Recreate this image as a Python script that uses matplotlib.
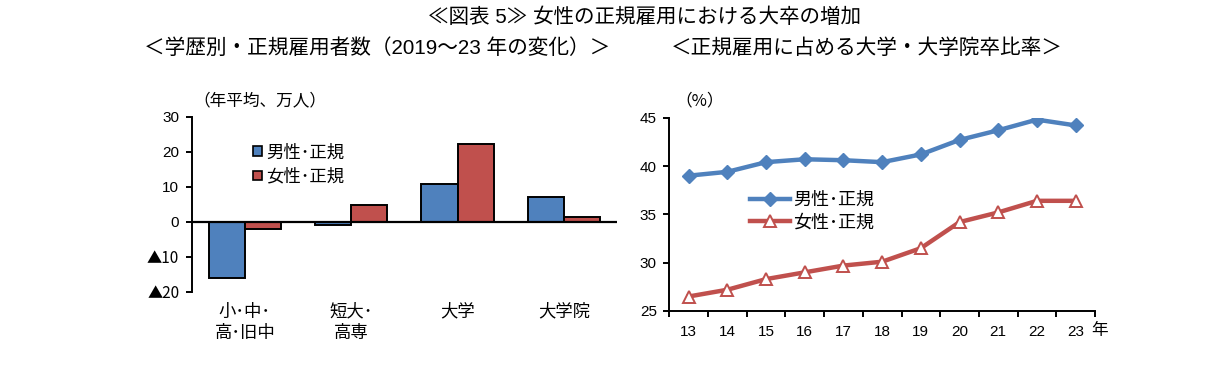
"""Recreate the 図表5 chart: regular employment by education (bars) and
university-graduate share of regular employees (lines)."""

import matplotlib

matplotlib.use("Agg")
import matplotlib.pyplot as plt  # noqa: E402
from matplotlib.lines import Line2D  # noqa: E402
from matplotlib.patches import Patch  # noqa: E402

BLUE = "#4F81BD"
RED = "#C0504D"
CJK = ["Noto Sans CJK JP", "DejaVu Sans"]

plt.rcParams.update({
    "font.family": ["Liberation Sans", "Noto Sans CJK JP", "DejaVu Sans"],
    "font.size": 11,
    "axes.linewidth": 1.4,
    "xtick.major.width": 1.4,
    "ytick.major.width": 1.4,
    "xtick.minor.width": 1.4,
})

# left panel: change in regular employees 2019->23 (万人, annual avg)
categories = ["小･中･\n高･旧中", "短大･\n高専", "大学", "大学院"]
male_change = [-16.2, -0.9, 10.7, 7.1]
female_change = [-2.2, 4.8, 22.2, 1.4]
left_yticks = [30, 20, 10, 0, -10, -20]
left_yticklabels = ["30", "20", "10", "0", "▲10", "▲20"]

# right panel: share of univ / grad school among regular employees (%)
years = ["13", "14", "15", "16", "17", "18", "19", "20", "21", "22", "23"]
male_ratio = [39.0, 39.4, 40.4, 40.7, 40.6, 40.4, 41.2, 42.7, 43.7, 44.8, 44.2]
female_ratio = [26.5, 27.2, 28.3, 29.0, 29.7, 30.1, 31.5, 34.2, 35.2, 36.4, 36.4]

W, H = 1224, 373
fig = plt.figure(figsize=(W / 100, H / 100), dpi=100)


def px_axes(x0, x1, ytop, ybot):
    return fig.add_axes([x0 / W, 1 - ybot / H, (x1 - x0) / W, (ybot - ytop) / H])


# ---- titles
fig.text(645 / W, 1 - 17 / H, "≪図表 5≫ 女性の正規雇用における大卒の増加",
         ha="center", va="center", fontsize=14.8)
fig.text(377 / W, 1 - 48 / H, "＜学歴別・正規雇用者数（2019～23 年の変化）＞",
         ha="center", va="center", fontsize=14.9)
fig.text(867 / W, 1 - 48 / H, "＜正規雇用に占める大学・大学院卒比率＞",
         ha="center", va="center", fontsize=14.9)

# ---- left: bars
ax = px_axes(191.7, 617, 116.7, 291.7)
x = list(range(len(categories)))
w = 0.34
ax.bar([i - w / 2 for i in x], male_change, w, color=BLUE,
       edgecolor="black", linewidth=1.4, zorder=2)
ax.bar([i + w / 2 for i in x], female_change, w, color=RED,
       edgecolor="black", linewidth=1.4, zorder=2)
ax.axhline(0, color="black", linewidth=1.6, zorder=3)
ax.set_xlim(-0.5, 3.5)
ax.set_ylim(-20, 30)
ax.set_yticks(left_yticks)
ax.set_yticklabels(left_yticklabels)
for lbl in ax.get_yticklabels():
    if "▲" in lbl.get_text():
        lbl.set_family(CJK)
ax.set_xticks(x)
ax.set_xticklabels(categories, fontsize=12.5, linespacing=1.25, family=CJK)
ax.tick_params(axis="x", length=0, pad=8)
ax.tick_params(axis="y", length=4, pad=5, labelsize=11)
for s in ("top", "right"):
    ax.spines[s].set_visible(False)
ax.spines["bottom"].set_visible(False)
fig.text(193 / W, 1 - 101 / H, "（年平均、万人）", ha="left", va="center",
         fontsize=12, family=CJK)
fig.legend(
    handles=[Patch(facecolor=BLUE, edgecolor="black", linewidth=1.2, label="男性･正規"),
             Patch(facecolor=RED, edgecolor="black", linewidth=1.2, label="女性･正規")],
    loc="upper left", bbox_to_anchor=(253 / W, 1 - 144 / H), frameon=False,
    fontsize=12.5, handlelength=0.5, handleheight=0.5, handletextpad=0.25,
    borderpad=0, borderaxespad=0, labelspacing=0.45,
)

# ---- right: lines
ax2 = px_axes(669.3, 1095, 117.7, 311)
xi = list(range(len(years)))
ax2.plot(xi, male_ratio, color=BLUE, linewidth=3.2, marker="D", markersize=7,
         markerfacecolor=BLUE, markeredgecolor=BLUE, label="男性･正規")
ax2.plot(xi, female_ratio, color=RED, linewidth=3.2, marker="^", markersize=9,
         markerfacecolor="white", markeredgecolor=RED, markeredgewidth=1.4,
         label="女性･正規")
ax2.set_xlim(-0.5, len(years) - 0.5)
ax2.set_ylim(25, 45)
ax2.set_yticks([25, 30, 35, 40, 45])
ax2.set_xticks(xi)
ax2.set_xticklabels(years)
ax2.set_xticks([i - 0.5 for i in range(len(years) + 1)], minor=True)
ax2.tick_params(axis="x", which="major", length=0, pad=10, labelsize=11)
ax2.tick_params(axis="x", which="minor", length=4)
ax2.tick_params(axis="y", length=4, pad=5, labelsize=11)
for s in ("top", "right"):
    ax2.spines[s].set_visible(False)
fig.text(675 / W, 1 - 101 / H, "（%）", ha="left", va="center",
         fontsize=12, family=CJK)
fig.text(1100 / W, 1 - 331 / H, "年", ha="center", va="center", fontsize=12,
         family=CJK)
fig.legend(
    handles=[Line2D([], [], color=BLUE, linewidth=3.2, marker="D", markersize=7),
             Line2D([], [], color=RED, linewidth=3.2, marker="^", markersize=9,
                    markerfacecolor="white", markeredgecolor=RED, markeredgewidth=1.4)],
    labels=["男性･正規", "女性･正規"],
    loc="upper left", bbox_to_anchor=(750 / W, 1 - 192 / H), frameon=False,
    fontsize=13, handlelength=2.2, handletextpad=0.2,
    borderpad=0, borderaxespad=0, labelspacing=0.3,
)

fig.savefig("out.png", dpi=100)
